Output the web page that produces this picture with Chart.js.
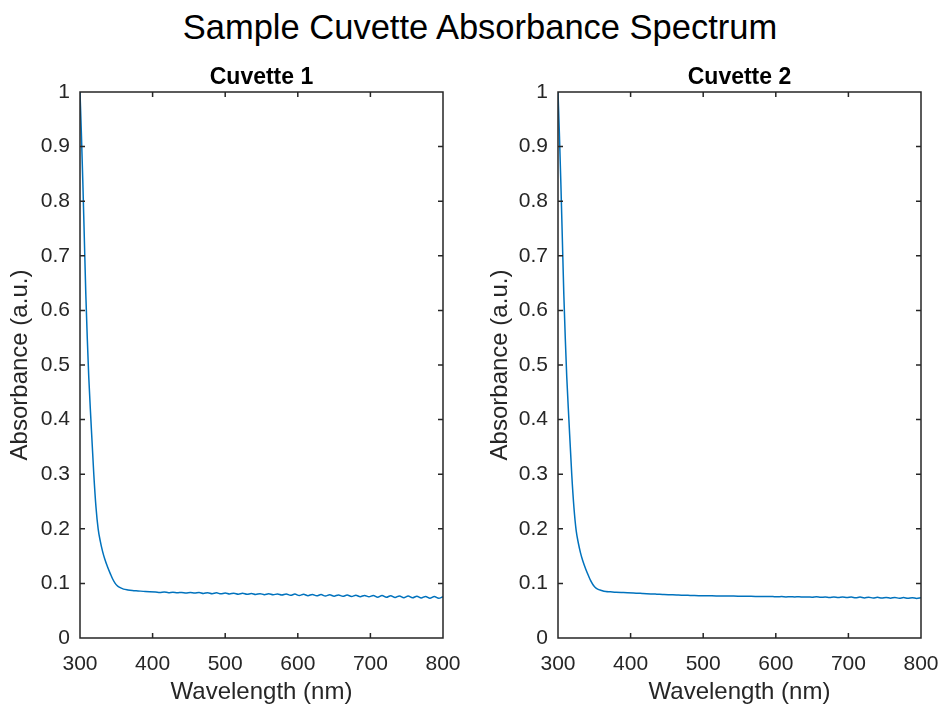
<!DOCTYPE html>
<html>
<head>
<meta charset="utf-8">
<title>Sample Cuvette Absorbance Spectrum</title>
<script src="https://cdn.jsdelivr.net/npm/chart.js@4.4.0/dist/chart.umd.min.js"></script>
<style>
    body { margin: 0; background: #fff; overflow: hidden; }
    #wrap { position: relative; width: 940px; height: 704px; overflow: hidden; font-family: "Liberation Sans", Arial, sans-serif; color: #000; }
    #wrap canvas { position: absolute; top: 0; }
    .suptitle { position: absolute; left: 10px; top: 7px; width: 940px; text-align: center; font-size: 34.5px; line-height: 40px; }
    .subtitle { position: absolute; top: 63px; width: 363px; text-align: center; font-size: 23px; line-height: 26px; font-weight: bold; }
</style>
</head>
<body>
<div id="wrap">
    <div class="suptitle">Sample Cuvette Absorbance Spectrum</div>
    <canvas id="chart1" width="470" height="704" style="left:0px"></canvas>
    <canvas id="chart2" width="470" height="704" style="left:470px"></canvas>
    <div class="subtitle" style="left:80px">Cuvette 1</div>
    <div class="subtitle" style="left:558px">Cuvette 2</div>
</div>
<script>
// wavelengths (nm), shared by both cuvettes
const wavelengths = [300, 302, 304, 306, 308, 310, 312, 315, 319, 322, 325, 328, 331, 334, 338, 342, 345, 348, 351, 354, 360, 366, 372, 380, 390,
    404, 410, 416, 422, 428, 434, 440, 446, 452, 458, 464, 470, 476, 482, 488, 494, 500, 506, 512, 518, 524, 530, 536, 542,
    548, 554, 560, 566, 572, 578, 584, 590, 596, 602, 608, 614, 620, 626, 632, 638, 644, 650, 656, 662, 668, 674, 680, 686,
    692, 698, 704, 710, 716, 722, 728, 734, 740, 746, 752, 758, 764, 770, 776, 782, 788, 794, 800];

const absCuvette1 = [1.0, 0.92, 0.83, 0.73, 0.63, 0.55, 0.48, 0.40, 0.30, 0.24, 0.20, 0.177, 0.159, 0.145, 0.130, 0.117, 0.108, 0.101, 0.096, 0.093, 0.0895, 0.088, 0.087, 0.0862, 0.0852,
    0.0844, 0.0834, 0.0841, 0.0831, 0.0838, 0.0828, 0.0835, 0.0825, 0.0832, 0.0822,
    0.0833, 0.0815, 0.0830, 0.0812, 0.0827, 0.0809, 0.0824, 0.0806, 0.0821, 0.0803,
    0.0818, 0.0800, 0.0815, 0.0797, 0.0812, 0.0794, 0.0809, 0.0791, 0.0806, 0.0788,
    0.0807, 0.0781, 0.0804, 0.0778, 0.0801, 0.0775, 0.0798, 0.0772, 0.0795, 0.0769,
    0.0792, 0.0766, 0.0789, 0.0763, 0.0786, 0.0760, 0.0783, 0.0757, 0.0780, 0.0754,
    0.0780, 0.0748, 0.0777, 0.0745, 0.0774, 0.0742, 0.0771, 0.0739, 0.0768, 0.0736,
    0.0765, 0.0733, 0.0762, 0.0730, 0.0759, 0.0727, 0.0756];

const absCuvette2 = [1.0, 0.92, 0.83, 0.73, 0.63, 0.55, 0.48, 0.40, 0.298, 0.238, 0.197, 0.174, 0.156, 0.142, 0.127, 0.114, 0.105, 0.098, 0.093, 0.090, 0.087, 0.085, 0.0845, 0.0838, 0.0832,
    0.0824, 0.0820, 0.0816, 0.0812, 0.0808, 0.0804, 0.0800, 0.0797, 0.0794, 0.0791,
    0.0788, 0.0785, 0.0783, 0.0780, 0.0778, 0.0776, 0.0774, 0.0773, 0.0772, 0.0771,
    0.0770, 0.0769, 0.0768, 0.0767, 0.0766, 0.0765, 0.0764, 0.0763, 0.0762, 0.0761,
    0.0760, 0.0759, 0.0758, 0.0757, 0.0758, 0.0753, 0.0756, 0.0752, 0.0755, 0.0750,
    0.0753, 0.0748, 0.0754, 0.0745, 0.0752, 0.0743, 0.0750, 0.0742, 0.0749, 0.0740,
    0.0750, 0.0735, 0.0749, 0.0734, 0.0747, 0.0732, 0.0745, 0.0731, 0.0744, 0.0729,
    0.0742, 0.0727, 0.0741, 0.0726, 0.0739, 0.0724, 0.0737];

const xTicks = [300, 400, 500, 600, 700, 800];
const yTicks = [0, 0.1, 0.2, 0.3, 0.4, 0.5, 0.6, 0.7, 0.8, 0.9, 1];

const axisColor = '#262626';
Chart.defaults.font.family = '"Liberation Sans", Arial, sans-serif';
Chart.defaults.color = axisColor;

// matlab style box with inward ticks on all four sides
const boxTicks = {
    id: 'boxTicks',
    afterDatasetsDraw(chart) {
        const { ctx, chartArea: a, scales: { x, y } } = chart;
        const len = 5;
        ctx.save();
        ctx.strokeStyle = axisColor;
        ctx.lineWidth = 1.5;
        ctx.beginPath();
        ctx.rect(a.left, a.top, a.right - a.left, a.bottom - a.top);
        xTicks.forEach(v => {
            const px = x.getPixelForValue(v);
            ctx.moveTo(px, a.bottom); ctx.lineTo(px, a.bottom - len);
            ctx.moveTo(px, a.top); ctx.lineTo(px, a.top + len);
        });
        yTicks.forEach(v => {
            const py = y.getPixelForValue(v);
            ctx.moveTo(a.left, py); ctx.lineTo(a.left + len, py);
            ctx.moveTo(a.right, py); ctx.lineTo(a.right - len, py);
        });
        ctx.stroke();
        ctx.restore();
    }
};

function makeChart(canvasId, values, yAxisWidth, yTitlePad, padRight) {
    const ctx = document.getElementById(canvasId).getContext('2d');
    const points = wavelengths.map((w, i) => ({ x: w, y: values[i] }));

    return new Chart(ctx, {
        type: 'line',
        data: {
            datasets: [{
                data: points,
                borderColor: '#0072BD',
                borderWidth: 1.5,
                pointRadius: 0,
                cubicInterpolationMode: 'monotone',
                fill: false
            }]
        },
        options: {
            responsive: false,
            animation: false,
            devicePixelRatio: 1,
            layout: { padding: { top: 92, right: padRight, bottom: 0, left: 0 } },
            plugins: {
                legend: { display: false },
                tooltip: { enabled: false }
            },
            scales: {
                x: {
                    type: 'linear',
                    min: 300,
                    max: 800,
                    afterBuildTicks: scale => { scale.ticks = xTicks.map(v => ({ value: v })); },
                    afterFit: scale => {
                        scale.height = 66;
                        scale.paddingLeft = 0;
                        scale.paddingRight = 0;
                    },
                    grid: { display: false, drawTicks: false },
                    border: { display: false },
                    ticks: { padding: 14, font: { size: 21 }, color: axisColor, maxRotation: 0 },
                    title: {
                        display: true,
                        text: 'Wavelength (nm)',
                        font: { size: 24, lineHeight: 1 },
                        color: axisColor,
                        padding: { top: 0, bottom: 0 }
                    }
                },
                y: {
                    min: 0,
                    max: 1,
                    afterBuildTicks: scale => { scale.ticks = yTicks.map(v => ({ value: v })); },
                    afterFit: scale => { scale.width = yAxisWidth; },
                    grid: { display: false, drawTicks: false },
                    border: { display: false },
                    ticks: {
                        padding: 10,
                        font: { size: 21 },
                        color: axisColor,
                        callback: value => String(Math.round(value * 10) / 10)
                    },
                    title: {
                        display: true,
                        text: 'Absorbance (a.u.)',
                        font: { size: 24, lineHeight: 1 },
                        color: axisColor,
                        padding: { top: yTitlePad, bottom: 0 }
                    }
                }
            }
        },
        plugins: [boxTicks]
    });
}

makeChart('chart1', absCuvette1, 80, 8, 27);
makeChart('chart2', absCuvette2, 88, 18, 19);
</script>
</body>
</html>
